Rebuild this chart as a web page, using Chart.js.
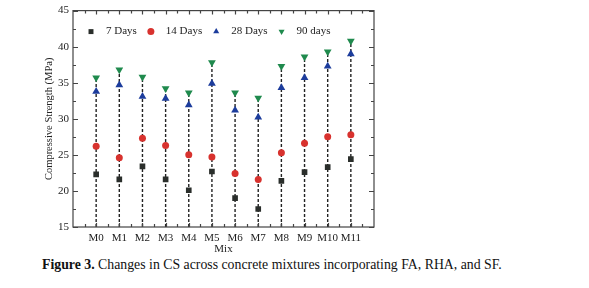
<!DOCTYPE html>
<html>
<head>
<meta charset="utf-8">
<script src="https://cdn.jsdelivr.net/npm/chart.js@4.4.0/dist/chart.umd.min.js"></script>
<style>
  body { margin: 0; background: #fff; width: 589px; height: 288px; overflow: hidden; font-family: "Liberation Serif", serif; }
  #wrap { position: absolute; left: 0; top: 0; width: 589px; height: 256px; }
  #cap { position: absolute; left: 42px; top: 257px; font-size: 13.8px; color: #111; white-space: nowrap; }
</style>
</head>
<body>
<div id="wrap"><canvas id="c"></canvas></div>
<div id="cap"><b>Figure 3.</b> Changes in CS across concrete mixtures incorporating FA, RHA, and SF.</div>
<script>
// mezclas y resistencias (MPa)
const mixes = ["M0", "M1", "M2", "M3", "M4", "M5", "M6", "M7", "M8", "M9", "M10", "M11"];
const days7  = [22.3, 21.6, 23.4, 21.6, 20.1, 22.7, 19.0, 17.5, 21.4, 22.6, 23.3, 24.4];
const days14 = [26.2, 24.6, 27.3, 26.3, 25.0, 24.7, 22.4, 21.6, 25.3, 26.6, 27.5, 27.8];
const days28 = [33.8, 34.7, 33.1, 32.8, 31.9, 34.9, 31.2, 30.2, 34.3, 35.7, 37.3, 39.0];
const days90 = [35.7, 36.8, 35.8, 34.2, 33.6, 37.8, 33.6, 32.9, 37.3, 38.6, 39.3, 40.8];
const yTicks = [15, 20, 25, 30, 35, 40, 45];

const serif = "'Liberation Serif', 'Times New Roman', serif";
const pts = arr => arr.map((v, i) => ({ x: i, y: v }));

// lineas discontinuas, marco, marcas hacia dentro y leyenda dentro del area
const framePlugin = {
  id: "frame",
  beforeDatasetsDraw(chart) {
    const { ctx, chartArea: a, scales: { x, y } } = chart;
    ctx.save();
    ctx.strokeStyle = "#222";
    ctx.lineWidth = 1.4;
    ctx.setLineDash([3, 2]);
    mixes.forEach((m, i) => {
      const top = Math.max(days7[i], days14[i], days28[i], days90[i]);
      const px = x.getPixelForValue(i);
      ctx.beginPath();
      ctx.moveTo(px, a.bottom);
      ctx.lineTo(px, y.getPixelForValue(top));
      ctx.stroke();
    });
    ctx.restore();
  },
  afterDatasetsDraw(chart) {
    const { ctx, chartArea: a, scales: { x, y } } = chart;
    ctx.save();
    ctx.strokeStyle = "#444";
    ctx.lineWidth = 1.2;
    ctx.strokeRect(a.left, a.top, a.right - a.left, a.bottom - a.top);
    ctx.beginPath();
    for (let v = y.min; v <= y.max; v += 2.5) {
      const py = Math.round(y.getPixelForValue(v)) + 0.5;
      const len = v % 5 === 0 ? 5 : 3;
      ctx.moveTo(a.left, py); ctx.lineTo(a.left + len, py);
      ctx.moveTo(a.right, py); ctx.lineTo(a.right - len, py);
    }
    for (let v = x.min + 0.5; v < x.max; v += 0.5) {
      const px = Math.round(x.getPixelForValue(v)) + 0.5;
      const len = v % 1 === 0 ? 4 : 3;
      ctx.moveTo(px, a.bottom); ctx.lineTo(px, a.bottom - len);
      ctx.moveTo(px, a.top); ctx.lineTo(px, a.top + len);
    }
    ctx.stroke();

    // leyenda
    ctx.font = "11px " + serif;
    ctx.textBaseline = "middle";
    let lx = a.left + 18;
    const ly = a.top + 21;
    chart.data.datasets.forEach(ds => {
      ctx.fillStyle = ds.backgroundColor;
      Chart.helpers.drawPoint(ctx, { pointStyle: ds.pointStyle, radius: 3.5, rotation: ds.rotation || 0, borderWidth: 0 }, lx, ly);
      ctx.fillStyle = "#222";
      ctx.fillText(ds.label, lx + 15, ly);
      lx += 15 + ctx.measureText(ds.label).width + 14;
    });
    ctx.restore();
  }
};

new Chart(document.getElementById("c"), {
  type: "scatter",
  data: {
    datasets: [
      { label: "7 Days", data: pts(days7), pointStyle: "rect", pointRadius: 4,
        backgroundColor: "#2a2e2b", borderColor: "#2a2e2b", borderWidth: 0 },
      { label: "14 Days", data: pts(days14), pointStyle: "circle", pointRadius: 3.5,
        backgroundColor: "#d8322e", borderColor: "#d8322e", borderWidth: 0 },
      { label: "28 Days", data: pts(days28), pointStyle: "triangle", pointRadius: 4.5,
        backgroundColor: "#1c3c9c", borderColor: "#1c3c9c", borderWidth: 0 },
      { label: "90 days", data: pts(days90), pointStyle: "triangle", rotation: 180, pointRadius: 4.5,
        backgroundColor: "#1f8a4d", borderColor: "#1f8a4d", borderWidth: 0 }
    ]
  },
  options: {
    responsive: true,
    maintainAspectRatio: false,
    animation: false,
    layout: { padding: { left: 36, right: 215, top: 6, bottom: 0 } },
    plugins: {
      tooltip: { enabled: false },
      legend: { display: false }
    },
    scales: {
      x: {
        type: "linear", min: -1, max: 12,
        afterBuildTicks: s => { s.ticks = mixes.map((m, i) => ({ value: i })); },
        afterFit: s => { s.height = 29; },
        ticks: { callback: v => mixes[v], autoSkip: false, maxRotation: 0, padding: 5,
                 color: "#222", font: { family: serif, size: 11 } },
        grid: { display: false, drawTicks: false },
        border: { display: false },
        title: { display: true, text: "Mix", color: "#222", padding: 0, font: { family: serif, size: 11 } }
      },
      y: {
        min: 15, max: 45,
        afterBuildTicks: s => { s.ticks = yTicks.map(v => ({ value: v })); },
        afterFit: s => { s.width = 37; },
        ticks: { padding: 4, color: "#222", font: { family: serif, size: 11 } },
        grid: { display: false, drawTicks: false },
        border: { display: false },
        title: { display: true, text: "Compressive Strength (MPa)", color: "#222",
                 padding: { top: 7, bottom: 0 }, font: { family: serif, size: 10.5 } }
      }
    }
  },
  plugins: [framePlugin]
});
</script>
</body>
</html>
